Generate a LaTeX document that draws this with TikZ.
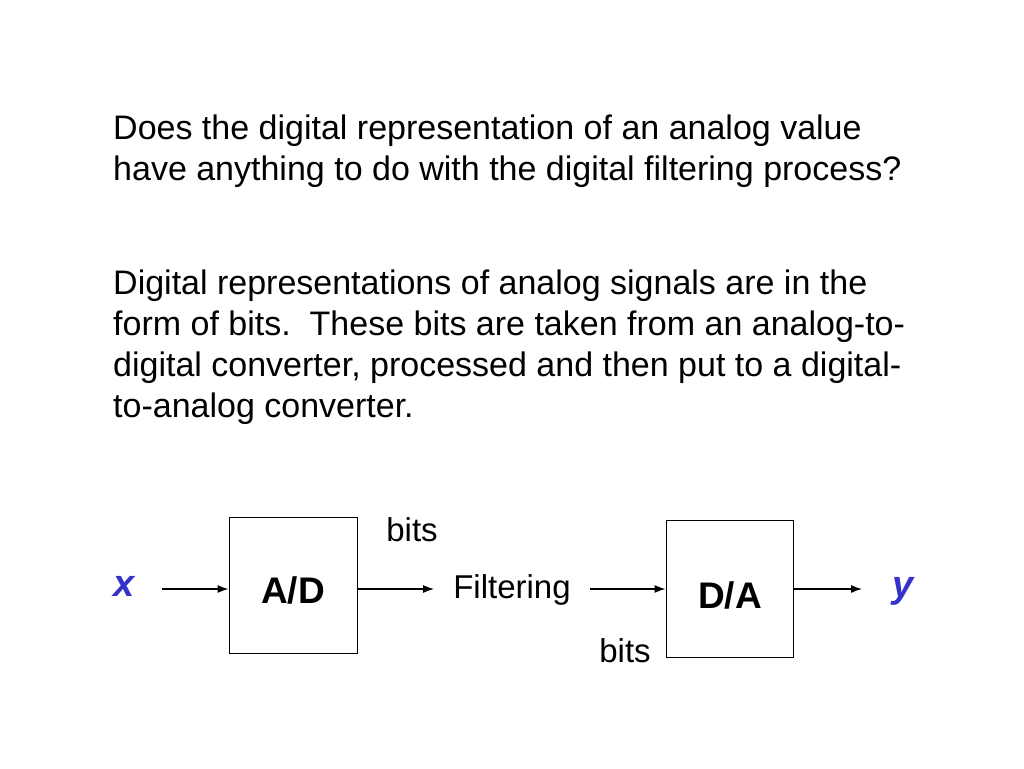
\documentclass[tikz,border=0pt]{standalone}
\usepackage{fontspec}
\setmainfont{Liberation Sans}
\usetikzlibrary{arrows.meta}
\definecolor{lblue}{RGB}{51,51,204}
\begin{document}
\begin{tikzpicture}[x=1pt,y=-1pt,
  para/.style={anchor=base west,inner sep=0pt,font=\fontsize{34}{41}\selectfont},
  blockbox/.style={draw,line width=1pt,inner sep=0pt},
  lbl/.style={inner sep=0pt,font=\fontsize{33}{40}\selectfont},
  blk/.style={inner sep=0pt,font=\fontsize{37}{44}\selectfont\bfseries},
  sig/.style={inner sep=0pt,text=lblue,font=\fontsize{38}{44}\selectfont\bfseries\itshape},
  conn/.style={line width=1.2pt,-{Latex[length=11pt,width=8pt]}}]
\useasboundingbox (0,0) rectangle (1024,768);
\node[para] (q1) at (113,139) {Does the digital representation of an analog value};
\node[para] (q2) at (113,180) {have anything to do with the digital filtering process?};
\node[para] (a1) at (113,294) {Digital representations of analog signals are in the};
\node[para] (a2) at (113,335) {form of bits.\ \ These bits are taken from an analog-to-};
\node[para] (a3) at (113,376) {digital converter, processed and then put to a digital-};
\node[para] (a4) at (113,417) {to-analog converter.};
\node[blockbox,minimum width=128pt,minimum height=136pt] (ad) at (293,585) {};
\node[blk] (adt) at (293,590) {A/D};
\node[blockbox,minimum width=127pt,minimum height=137pt] (da) at (729.5,588.5) {};
\node[blk] (dat) at (730,595) {D/A};
\node[sig] (x) at (124,586) {x};
\node[sig] (y) at (903,591) {y};
\node[lbl,anchor=base] (filt) at (512,598) {Filtering};
\node[lbl] (b1) at (412,530) {bits};
\node[lbl] (b2) at (625,651) {bits};
\coordinate (xs) at (162,589);
\coordinate (f1) at (434,589);
\coordinate (f2) at (590,589);
\coordinate (ye) at (862,589);
\draw[conn] (xs) -- (xs -| ad.west);
\draw[conn] (ad.east |- f1) -- (f1);
\draw[conn] (f2) -- (f2 -| da.west);
\draw[conn] (da.east |- ye) -- (ye);
\end{tikzpicture}
\end{document}
